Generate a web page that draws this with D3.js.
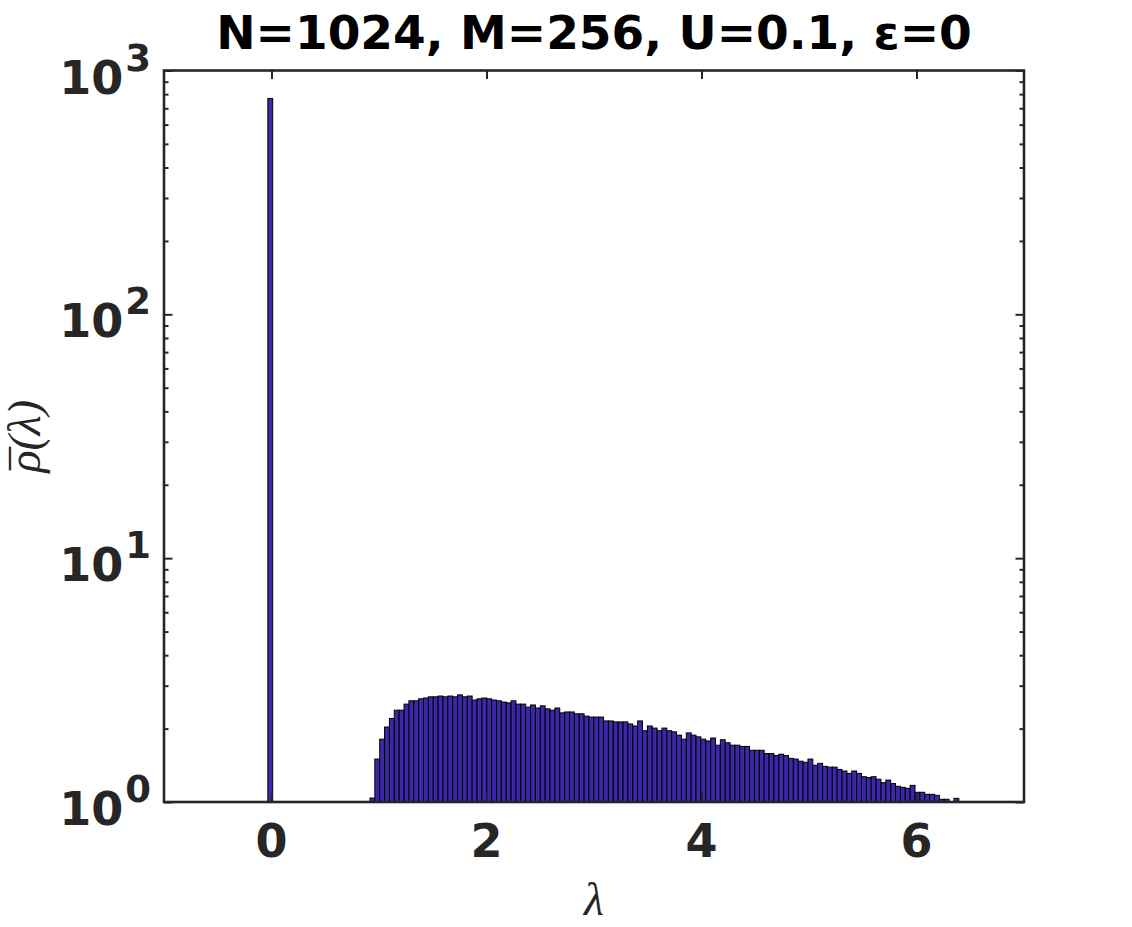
<!DOCTYPE html>
<html>
<head>
<meta charset="utf-8">
<script src="https://cdn.jsdelivr.net/npm/d3@7"></script>
<style>
  html, body { margin: 0; padding: 0; background: #fff; }
  svg { display: block; }
</style>
</head>
<body>
<svg id="chart" width="1132" height="927"></svg>
<script>
// ---------------- data ----------------
const titleText = "N=1024, M=256, U=0.1, ε=0";
const xLabel = "λ";
const yLabelSymbol = "ρ";
const yLabelArg = "(λ)";
const xDomain = [-1, 7];
const yDomain = [1, 1000];
const xTicks = [0, 2, 4, 6];
const yTickExponents = [0, 1, 2, 3];

// zero-mode spike
const spikeLambdaLeft = -0.034;
const spikeRho = 768;

// bulk of the spectrum: equal-width histogram bins starting at bulkStart
const binWidth = 0.04527;
const bulkStart = 0.916;
const bulkRho = [
  1.038, 1.50, 1.81, 2.03, 2.20, 2.38, 2.38, 2.52, 2.60, 2.60,
  2.65, 2.67, 2.70, 2.70, 2.72, 2.70, 2.72, 2.70, 2.75, 2.70,
  2.72, 2.62, 2.65, 2.67, 2.65, 2.62, 2.60, 2.57, 2.55, 2.60,
  2.52, 2.52, 2.45, 2.50, 2.43, 2.48, 2.41, 2.38, 2.43, 2.32,
  2.34, 2.34, 2.30, 2.30, 2.25, 2.23, 2.23, 2.23, 2.15, 2.15,
  2.13, 2.13, 2.13, 2.09, 2.05, 2.15, 1.96, 2.05, 2.01, 1.96,
  2.01, 1.96, 1.94, 1.88, 1.81, 1.92, 1.88, 1.85, 1.81, 1.78,
  1.83, 1.71, 1.80, 1.75, 1.71, 1.71, 1.69, 1.69, 1.63, 1.63,
  1.63, 1.58, 1.58, 1.55, 1.57, 1.55, 1.51, 1.50, 1.47, 1.455,
  1.50, 1.415, 1.44, 1.40, 1.39, 1.39, 1.36, 1.34, 1.31, 1.34,
  1.31, 1.27, 1.26, 1.27, 1.24, 1.20, 1.23, 1.19, 1.16, 1.149,
  1.138, 1.17, 1.096, 1.096, 1.075, 1.075, 1.065, 1.026, 1.026, 0,
  1.035
];

// ---------------- layout ----------------
const plot = { left: 164, right: 1024, top: 70.5, bottom: 802 };
const axisColor = "#262626";
const barColor = "#3e26a8";

const svg = d3.select("#chart");

const x = d3.scaleLinear().domain(xDomain).range([plot.left, plot.right]);
const y = d3.scaleLog().domain(yDomain).range([plot.bottom, plot.top]);

// bars
const bars = [{ x0: spikeLambdaLeft, x1: spikeLambdaLeft + binWidth, v: spikeRho }]
  .concat(bulkRho.map((v, i) => ({ x0: bulkStart + i * binWidth, x1: bulkStart + (i + 1) * binWidth, v })))
  .filter(d => d.v > 1);

svg.append("defs").append("clipPath").attr("id", "clip")
  .append("rect")
  .attr("x", plot.left).attr("y", plot.top)
  .attr("width", plot.right - plot.left).attr("height", plot.bottom - plot.top);

svg.append("g").attr("clip-path", "url(#clip)")
  .selectAll("rect").data(bars).join("rect")
  .attr("x", d => x(d.x0))
  .attr("width", d => x(d.x1) - x(d.x0))
  .attr("y", d => y(d.v))
  .attr("height", d => y(1) - y(d.v))
  .attr("fill", barColor)
  .attr("stroke", "#000")
  .attr("stroke-width", 1);

// axes with inward ticks
const majorLen = 8.5, minorLen = 4.5;
const minorVals = [];
for (let e = 0; e < 3; e++) for (let m = 2; m <= 9; m++) minorVals.push(m * Math.pow(10, e));

const bottomAxis = d3.axisBottom(x).tickValues(xTicks).tickSizeInner(-majorLen).tickSizeOuter(0).tickFormat("");
const topAxis = d3.axisTop(x).tickValues(xTicks).tickSizeInner(-majorLen).tickSizeOuter(0).tickFormat("");
const leftMajor = d3.axisLeft(y).tickValues(yTickExponents.map(e => Math.pow(10, e))).tickSizeInner(-majorLen).tickSizeOuter(0).tickFormat("");
const rightMajor = d3.axisRight(y).tickValues(yTickExponents.map(e => Math.pow(10, e))).tickSizeInner(-majorLen).tickSizeOuter(0).tickFormat("");
const leftMinor = d3.axisLeft(y).tickValues(minorVals).tickSizeInner(-minorLen).tickSizeOuter(0).tickFormat("");
const rightMinor = d3.axisRight(y).tickValues(minorVals).tickSizeInner(-minorLen).tickSizeOuter(0).tickFormat("");

function styleAxis(g) {
  g.select(".domain").remove();
  g.selectAll(".tick line").attr("stroke", axisColor).attr("stroke-width", 2);
}
svg.append("g").attr("transform", `translate(0,${plot.bottom})`).call(bottomAxis).call(styleAxis);
svg.append("g").attr("transform", `translate(0,${plot.top})`).call(topAxis).call(styleAxis);
svg.append("g").attr("transform", `translate(${plot.left},0)`).call(leftMajor).call(styleAxis);
svg.append("g").attr("transform", `translate(${plot.right},0)`).call(rightMajor).call(styleAxis);
svg.append("g").attr("transform", `translate(${plot.left},0)`).call(leftMinor).call(styleAxis);
svg.append("g").attr("transform", `translate(${plot.right},0)`).call(rightMinor).call(styleAxis);

// box
svg.append("rect")
  .attr("x", plot.left).attr("y", plot.top)
  .attr("width", plot.right - plot.left).attr("height", plot.bottom - plot.top)
  .attr("fill", "none").attr("stroke", axisColor).attr("stroke-width", 2.6);

const sans = "'DejaVu Sans', sans-serif";
const serif = "'Liberation Serif', 'DejaVu Serif', serif";

// x tick labels
svg.append("g").selectAll("text").data(xTicks).join("text")
  .attr("x", d => x(d)).attr("y", plot.bottom + 55)
  .attr("text-anchor", "middle")
  .attr("font-family", sans).attr("font-weight", "bold").attr("font-size", 46)
  .attr("fill", axisColor)
  .text(d => d3.format("d")(d));

// y tick labels 10^k
const yl = svg.append("g").selectAll("text").data(yTickExponents).join("text")
  .attr("x", 151).attr("y", d => y(Math.pow(10, d)) + 23)
  .attr("text-anchor", "end")
  .attr("font-family", sans).attr("font-weight", "bold")
  .attr("fill", axisColor);
yl.append("tspan").attr("font-size", 46).text("10");
yl.append("tspan").attr("font-size", 37).attr("dy", -23).attr("dx", 2).text(d => d);

// title
svg.append("text")
  .attr("x", (plot.left + plot.right) / 2).attr("y", 49)
  .attr("text-anchor", "middle")
  .attr("font-family", sans).attr("font-weight", "bold").attr("font-size", 47)
  .attr("fill", "#000")
  .text(titleText);

// x label
svg.append("text")
  .attr("x", (plot.left + plot.right) / 2).attr("y", 915)
  .attr("text-anchor", "middle")
  .attr("font-family", serif).attr("font-style", "italic").attr("font-size", 46)
  .attr("fill", axisColor)
  .text(xLabel);

// y label: rho with a bar over it, then (lambda)
const ylab = svg.append("text")
  .attr("transform", `translate(40,${(plot.top + plot.bottom) / 2}) rotate(-90)`)
  .attr("text-anchor", "middle")
  .attr("font-family", serif).attr("font-style", "italic").attr("font-size", 46)
  .attr("fill", axisColor);
const t1 = ylab.append("tspan").text(yLabelSymbol);
const t2 = ylab.append("tspan").attr("font-style", "normal").text("\u00AF");
const t3 = ylab.append("tspan").text(yLabelArg);
const w1 = t1.node().getComputedTextLength();
const w2 = t2.node().getComputedTextLength();
const shift = 3;
t2.attr("dx", -(w1 + w2) / 2 + shift).attr("dy", 4);
t3.attr("dx", (w1 - w2) / 2 - shift).attr("dy", -4);
</script>
</body>
</html>
